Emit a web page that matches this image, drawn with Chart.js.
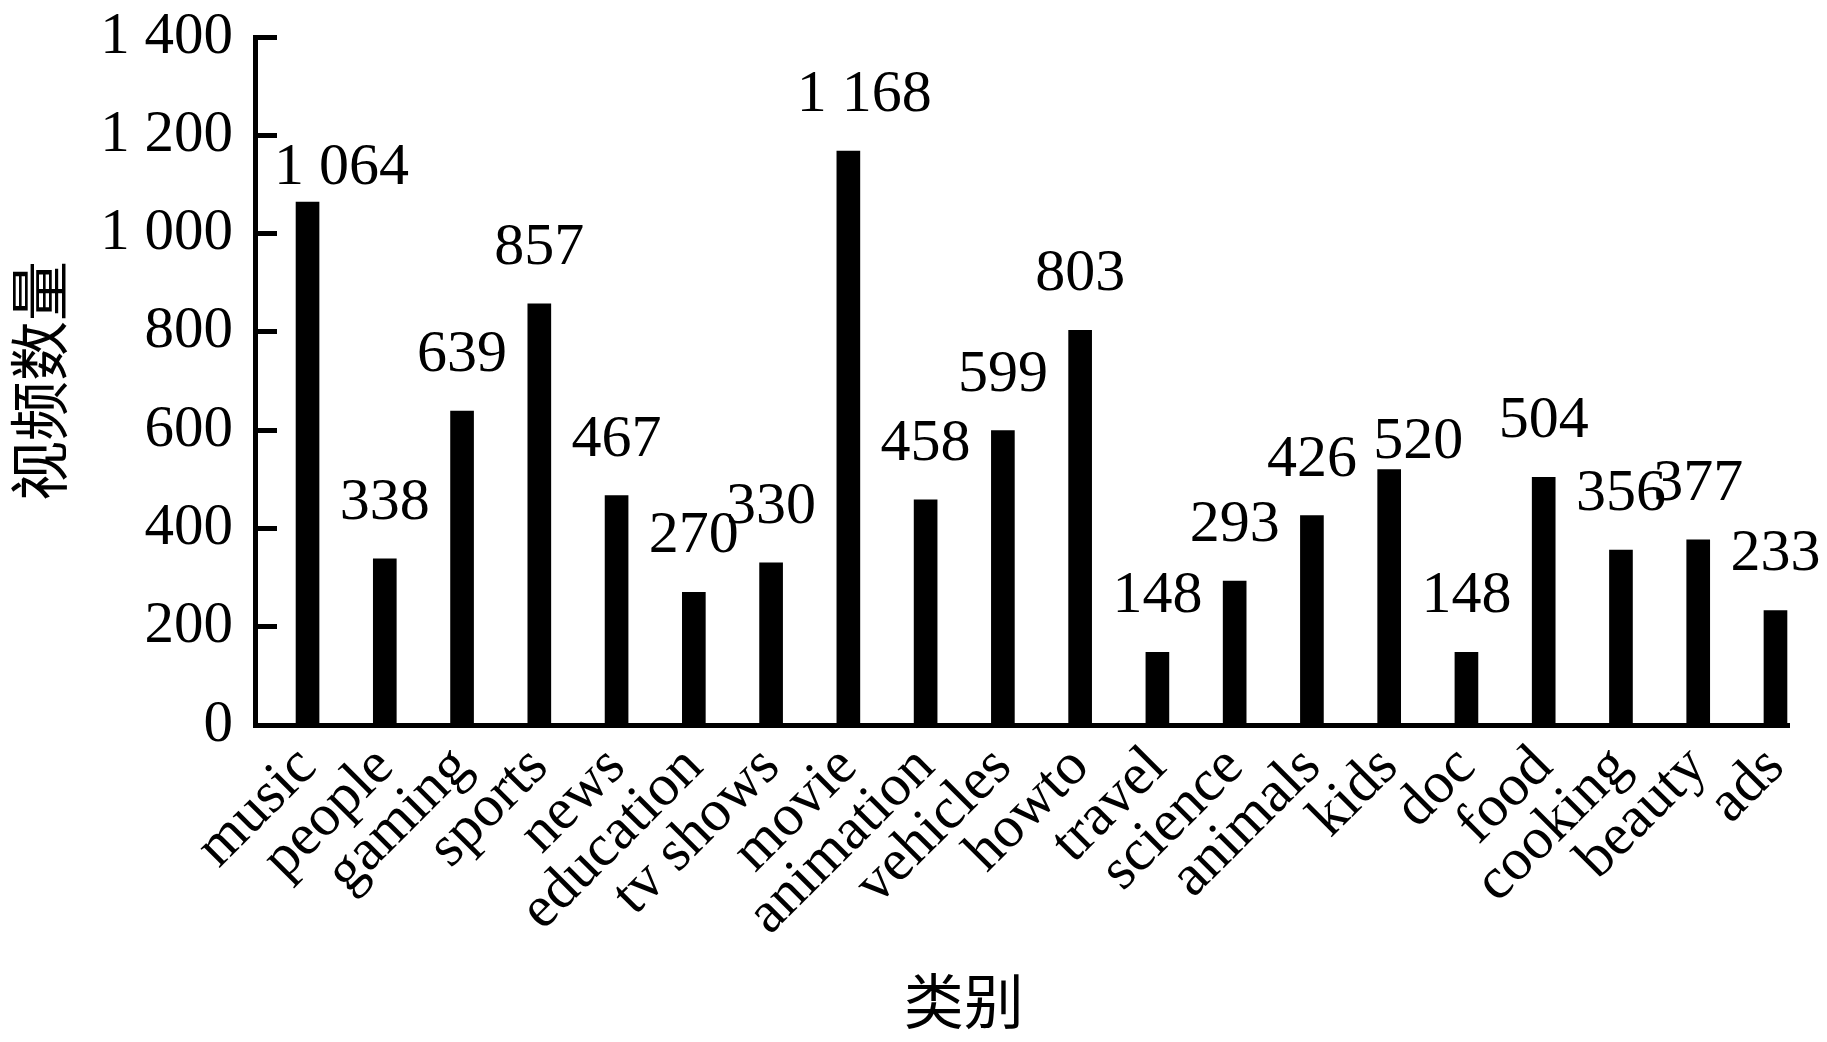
<!DOCTYPE html>
<html>
<head>
<meta charset="utf-8">
<script src="https://cdn.jsdelivr.net/npm/chart.js@4"></script>
<style>
  html, body { margin: 0; padding: 0; background: #fff; }
  #wrap { width: 1827px; height: 1042px; }
</style>
</head>
<body>
<div id="wrap"><canvas id="chart"></canvas></div>
<script>
const categories = ['music', 'people', 'gaming', 'sports', 'news', 'education', 'tv shows', 'movie',
  'animation', 'vehicles', 'howto', 'travel', 'science', 'animals', 'kids', 'doc', 'food',
  'cooking', 'beauty', 'ads'];
const views = [1064, 338, 639, 857, 467, 270, 330, 1168, 458, 599, 803, 148, 293, 426, 520, 148,
  504, 356, 377, 233];
const yTicks = [0, 200, 400, 600, 800, 1000, 1200, 1400];

const yTitle = '视频数量';
const xTitle = '类别';

// a few value labels were moved by hand in the original
const labelNudge = { music: [34, 22], movie: [16, 0], kids: [29, 29] };

const SERIF = '"Liberation Serif", "Times New Roman", serif';
const CJK = '"Noto Sans CJK SC", sans-serif';

function fmt(n) {
  if (n < 1000) return String(n);
  return Math.floor(n / 1000) + ' ' + String(n % 1000).padStart(3, '0');
}

const valueLabels = {
  id: 'valueLabels',
  afterDatasetsDraw(chart) {
    const { ctx } = chart;
    const meta = chart.getDatasetMeta(0);
    ctx.save();
    ctx.font = '60px ' + SERIF;
    ctx.fillStyle = '#000';
    ctx.textAlign = 'center';
    ctx.textBaseline = 'alphabetic';
    meta.data.forEach((bar, i) => {
      const [dx, dy] = labelNudge[categories[i]] || [0, 0];
      ctx.fillText(fmt(views[i]), bar.x + dx, bar.y - 40 + dy);
    });
    ctx.restore();
  }
};

// x title sits left of the plot centre in the original
const xAxisTitle = {
  id: 'xAxisTitle',
  afterDraw(chart) {
    const { ctx, chartArea } = chart;
    ctx.save();
    ctx.font = '60px ' + CJK;
    ctx.fillStyle = '#000';
    ctx.textAlign = 'center';
    ctx.textBaseline = 'middle';
    ctx.fillText(xTitle, chartArea.left + (chartArea.right - chartArea.left) * 0.462, chartArea.bottom + 276);
    ctx.restore();
  }
};

new Chart(document.getElementById('chart'), {
  type: 'bar',
  data: {
    datasets: [{
      data: views.map((v, i) => ({ x: i, y: v })),
      backgroundColor: '#000',
      borderWidth: 0,
      barThickness: 23,
    }],
  },
  options: {
    responsive: true,
    maintainAspectRatio: false,
    animation: false,
    layout: { padding: { left: 0, right: 38, top: 37, bottom: 0 } },
    plugins: {
      legend: { display: false },
      tooltip: { enabled: false },
    },
    scales: {
      x: {
        type: 'linear',
        min: -0.68,
        max: 19.175,
        offset: false,
        grid: { display: false, drawTicks: false },
        border: { display: true, color: '#000', width: 5 },
        afterBuildTicks: (axis) => { axis.ticks = categories.map((_, i) => ({ value: i })); },
        afterFit: (axis) => { axis.height = 317; axis.paddingLeft = 0; axis.paddingRight = 0; },
        ticks: {
          autoSkip: false,
          maxRotation: 45,
          minRotation: 45,
          padding: 8,
          color: '#000',
          font: { family: SERIF, size: 59 },
          callback: (v) => categories[v],
        },
      },
      y: {
        min: 0,
        max: 1400,
        afterBuildTicks: (axis) => { axis.ticks = yTicks.map(v => ({ value: v })); },
        afterFit: (axis) => { axis.width = 255; axis.paddingTop = 0; axis.paddingBottom = 0; },
        grid: {
          display: true,
          drawOnChartArea: false,
          drawTicks: true,
          tickLength: -22,
          tickWidth: 5,
          tickColor: '#000',
        },
        border: { display: true, color: '#000', width: 5 },
        ticks: {
          padding: 44,
          color: '#000',
          font: { family: SERIF, size: 59 },
          callback: (v) => fmt(v),
        },
        title: {
          display: true,
          text: yTitle,
          color: '#000',
          font: { family: CJK, size: 60 },
          padding: { top: 3, bottom: 0 },
        },
      },
    },
  },
  plugins: [valueLabels, xAxisTitle],
});
</script>
</body>
</html>
